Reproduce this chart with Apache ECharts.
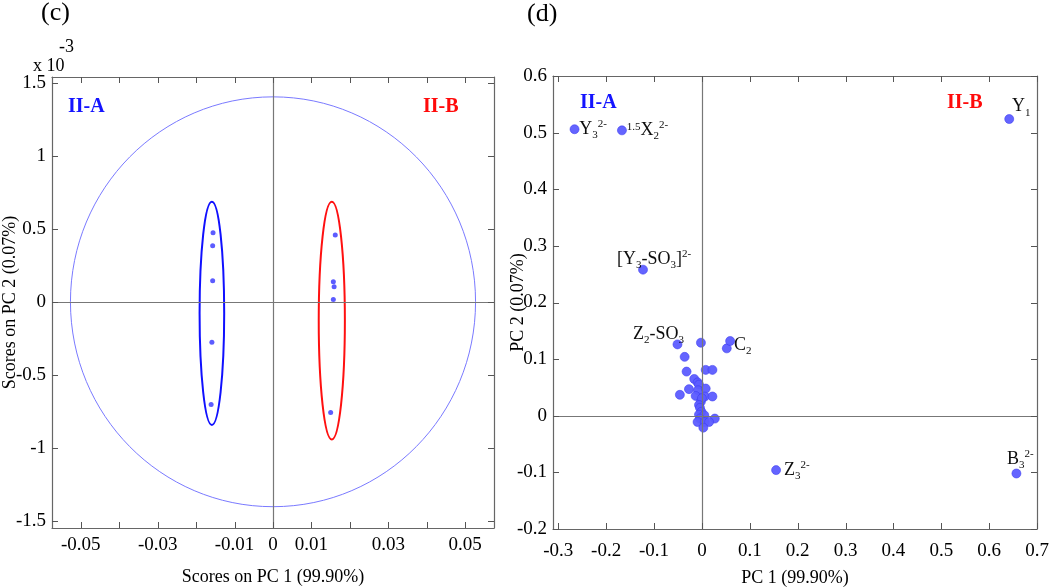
<!DOCTYPE html>
<html>
<head>
<meta charset="utf-8">
<script src="https://cdn.jsdelivr.net/npm/echarts@6/dist/echarts.min.js"></script>
<style>
  html, body { margin: 0; padding: 0; background: #fff; }
  #chart { width: 1050px; height: 588px; }
</style>
</head>
<body>
<div id="chart"></div>
<script>
// (c) scores on PC1 / PC2 (y in units of 1e-3)
const scoresA = [
  [-0.0156, 0.473], [-0.0157, 0.384], [-0.0157, 0.144], [-0.0159, -0.278], [-0.0161, -0.703]
]
const scoresB = [
  [0.0162, 0.457], [0.0157, 0.137], [0.0159, 0.103], [0.0157, 0.016], [0.0150, -0.758]
]
// ellipses: [cx, cy, rx, ry]
const outerEllipse = [[0, 0, 0.0527, 1.404]]
const ellipseA = [[-0.0159, -0.079, 0.0032, 0.765]]
const ellipseB = [[0.0153, -0.129, 0.0034, 0.814]]

const scoreXTicks = [-0.05, -0.04, -0.03, -0.02, -0.01, 0, 0.01, 0.02, 0.03, 0.04, 0.05]
const scoreXLabels = [-0.05, -0.03, -0.01, 0, 0.01, 0.03, 0.05]
const scoreYTicks = [-1.5, -1, -0.5, 0, 0.5, 1, 1.5]

// (d) loadings
const loadingPoints = [
  [-0.036, 0.104], [-0.032, 0.078], [0.008, 0.081], [0.022, 0.081], [-0.016, 0.065],
  [-0.009, 0.059], [-0.006, 0.055], [-0.046, 0.037], [-0.027, 0.047], [-0.008, 0.045],
  [0.008, 0.048], [-0.013, 0.035], [0.006, 0.034], [0.022, 0.034], [-0.002, 0.025],
  [0.000, 0.031], [-0.006, 0.019], [-0.004, 0.014], [-0.001, 0.007], [-0.006, 0.002],
  [0.005, 0.001], [-0.004, -0.005], [-0.009, -0.011], [0.006, -0.011], [0.027, -0.005],
  [0.015, -0.011], [0.003, -0.021], [-0.002, 0.129], [0.052, 0.119]
]
const labeledPoints = [
  [-0.266, 0.506, 'Y3'],
  [-0.167, 0.504, 'X2'],
  [-0.123, 0.258, 'Y3SO3'],
  [-0.051, 0.126, 'Z2SO3'],
  [0.059, 0.132, 'C2'],
  [0.155, -0.096, 'Z3'],
  [0.657, -0.102, 'B3'],
  [0.642, 0.524, 'Y1']
]
const loadXTicks = [-0.3, -0.2, -0.1, 0, 0.1, 0.2, 0.3, 0.4, 0.5, 0.6, 0.7]
const loadYTicks = [-0.2, -0.1, 0, 0.1, 0.2, 0.3, 0.4, 0.5, 0.6]

const labelText = {
  Y3: { text: '{t|Y}{sub|3}{sup|2-}', position: 'right', offset: [-3, 0] },
  X2: { text: '{supl|1.5}{t|X}{sub|2}{sup|2-}', position: 'right', offset: [-3, 0] },
  Y3SO3: { text: '{t|[Y}{sub|3}{t|-SO}{sub|3}{t|]}{sup|2-}', position: 'top', offset: [11, 9] },
  Z2SO3: { text: '{t|Z}{sub|2}{t|-SO}{sub|3}', position: 'top', offset: [-19, 9] },
  C2: { text: '{t|C}{sub|2}', position: 'right', offset: [-4, 4] },
  Z3: { text: '{t|Z}{sub|3}{sup|2-}', position: 'right', offset: [0, 0] },
  B3: { text: '{t|B}{sub|3}{sup|2-}', position: 'top', offset: [4, 5] },
  Y1: { text: '{t|Y}{sub|1}', position: 'top', offset: [12, 7] }
}

const FONT = 'Liberation Serif'
const AXIS_COLOR = '#666'
const TICK_COLOR = '#555'
const POINT_COLOR = '#5c5cff'

function fmt(v) {
  return String(Math.round(v * 1000) / 1000)
}

function frameAxis(gridIndex, min, max, labels, opts) {
  const base = {
    type: 'value',
    gridIndex,
    min,
    max,
    splitLine: { show: false },
    nameMoveOverlap: false,
    axisLine: { show: true, onZero: false, lineStyle: { color: AXIS_COLOR, width: 1.2 } },
    axisTick: { show: false },
    axisLabel: labels
      ? { show: true, customValues: labels, formatter: fmt, color: '#000', fontFamily: FONT, fontSize: 19 }
      : { show: false }
  }
  return Object.assign(base, opts || {})
}

function ellipseSeries(xi, yi, data, color, width) {
  return {
    type: 'custom',
    xAxisIndex: xi,
    yAxisIndex: yi,
    silent: true,
    clip: false,
    data,
    encode: { x: 0, y: 1 },
    renderItem(params, api) {
      const c = api.coord([api.value(0), api.value(1)])
      const s = api.size([api.value(2), api.value(3)])
      return {
        type: 'ellipse',
        shape: { cx: c[0], cy: c[1], rx: s[0], ry: s[1] },
        style: { fill: 'none', stroke: color, lineWidth: width }
      }
    }
  }
}

// inward tick marks on all four sides of a frame; item = [value, 0 for x / 1 for y]
function tickSeries(xi, yi, xTicks, yTicks) {
  const data = xTicks.map((v) => [v, 0]).concat(yTicks.map((v) => [v, 1]))
  return {
    type: 'custom',
    xAxisIndex: xi,
    yAxisIndex: yi,
    silent: true,
    clip: false,
    z: 5,
    data,
    encode: { x: 0 },
    renderItem(params, api) {
      const cs = params.coordSys
      const len = 6
      const style = { stroke: TICK_COLOR, lineWidth: 1 }
      const v = api.value(0)
      if (api.value(1) === 0) {
        const px = Math.round(api.coord([v, 0])[0]) + 0.5
        return {
          type: 'group',
          children: [
            { type: 'line', shape: { x1: px, y1: cs.y, x2: px, y2: cs.y + len }, style },
            { type: 'line', shape: { x1: px, y1: cs.y + cs.height, x2: px, y2: cs.y + cs.height - len }, style }
          ]
        }
      }
      const py = Math.round(api.coord([0, v])[1]) + 0.5
      return {
        type: 'group',
        children: [
          { type: 'line', shape: { x1: cs.x, y1: py, x2: cs.x + len, y2: py }, style },
          { type: 'line', shape: { x1: cs.x + cs.width, y1: py, x2: cs.x + cs.width - len, y2: py }, style }
        ]
      }
    }
  }
}

const zeroLines = {
  silent: true,
  symbol: 'none',
  label: { show: false },
  lineStyle: { color: '#777', type: 'solid', width: 1.2 },
  data: [{ xAxis: 0 }, { yAxis: 0 }]
}

const richStyle = {
  t: { fontFamily: FONT, fontSize: 18, color: '#000' },
  sub: { fontFamily: FONT, fontSize: 11, color: '#000', padding: [12, 0, 0, 0] },
  sup: { fontFamily: FONT, fontSize: 11, color: '#000', padding: [0, 0, 10, 0] },
  supl: { fontFamily: FONT, fontSize: 11, color: '#000', padding: [0, 0, 6, 0] }
}

const nameStyle = { fontFamily: FONT, fontSize: 18, color: '#000' }

const chart = echarts.init(document.getElementById('chart'))

chart.setOption({
  animation: false,
  backgroundColor: '#fff',
  grid: [
    { left: 52, top: 77, width: 442, height: 451, containLabel: false, outerBoundsMode: 'none' },
    { left: 553, top: 76, width: 484, height: 453, containLabel: false, outerBoundsMode: 'none' }
  ],
  xAxis: [
    frameAxis(0, -0.0575, 0.0575, scoreXLabels, {
      position: 'bottom',
      name: 'Scores on PC 1 (99.90%)',
      nameLocation: 'middle',
      nameGap: 40,
      nameTextStyle: nameStyle,
      axisLabel: { show: true, customValues: scoreXLabels, formatter: fmt, color: '#000', fontFamily: FONT, fontSize: 19, margin: 8 }
    }),
    frameAxis(0, -0.0575, 0.0575, null, { position: 'top' }),
    frameAxis(1, -0.311, 0.7, loadXTicks, {
      position: 'bottom',
      name: 'PC 1 (99.90%)',
      nameLocation: 'middle',
      nameGap: 40,
      nameTextStyle: nameStyle,
      axisLabel: { show: true, customValues: loadXTicks, formatter: fmt, color: '#000', fontFamily: FONT, fontSize: 19, margin: 13 }
    }),
    frameAxis(1, -0.311, 0.7, null, { position: 'top' })
  ],
  yAxis: [
    frameAxis(0, -1.55, 1.54, scoreYTicks, {
      position: 'left',
      name: 'Scores on PC 2 (0.07%)',
      nameLocation: 'middle',
      nameGap: 33,
      nameTextStyle: nameStyle,
      axisLabel: { show: true, customValues: scoreYTicks, formatter: fmt, color: '#000', fontFamily: FONT, fontSize: 19, margin: 6 }
    }),
    frameAxis(0, -1.55, 1.54, null, { position: 'right' }),
    frameAxis(1, -0.2, 0.6, loadYTicks, {
      position: 'left',
      name: 'PC 2 (0.07%)',
      nameLocation: 'middle',
      nameGap: 26,
      nameTextStyle: nameStyle,
      axisLabel: { show: true, customValues: loadYTicks, formatter: fmt, color: '#000', fontFamily: FONT, fontSize: 19, margin: 6 }
    }),
    frameAxis(1, -0.2, 0.6, null, { position: 'right' })
  ],
  series: [
    tickSeries(0, 0, scoreXTicks, scoreYTicks),
    tickSeries(2, 2, loadXTicks, loadYTicks),
    ellipseSeries(0, 0, outerEllipse, '#7a7aff', 1),
    ellipseSeries(0, 0, ellipseA, '#1010ff', 2),
    ellipseSeries(0, 0, ellipseB, '#ff1010', 2),
    {
      type: 'scatter',
      xAxisIndex: 0,
      yAxisIndex: 0,
      symbolSize: 5,
      itemStyle: { color: POINT_COLOR, opacity: 1 },
      data: scoresA.concat(scoresB),
      markLine: zeroLines
    },
    {
      type: 'scatter',
      xAxisIndex: 2,
      yAxisIndex: 2,
      symbolSize: 9,
      itemStyle: { color: POINT_COLOR, borderColor: '#3c3cf0', borderWidth: 0.6, opacity: 0.95 },
      data: loadingPoints,
      markLine: zeroLines
    },
    {
      type: 'scatter',
      xAxisIndex: 2,
      yAxisIndex: 2,
      symbolSize: 9,
      itemStyle: { color: POINT_COLOR, borderColor: '#3c3cf0', borderWidth: 0.6, opacity: 0.95 },
      data: labeledPoints.map((p) => {
        const l = labelText[p[2]]
        return {
          value: [p[0], p[1]],
          label: {
            show: true,
            formatter: l.text,
            position: l.position,
            offset: l.offset,
            distance: 3,
            rich: richStyle
          }
        }
      })
    }
  ],
  graphic: [
    { type: 'text', left: 41, top: 0, style: { text: '(c)', font: '26px "Liberation Serif"', fill: '#000' } },
    { type: 'text', left: 527, top: 1, style: { text: '(d)', font: '26px "Liberation Serif"', fill: '#000' } },
    { type: 'text', left: 33, top: 57, style: { text: 'x 10', font: '18px "Liberation Serif"', fill: '#000' } },
    { type: 'text', left: 59, top: 38, style: { text: '-3', font: '18px "Liberation Serif"', fill: '#000' } },
    { type: 'text', left: 68, top: 97, style: { text: 'II-A', font: 'bold 20px "Liberation Serif"', fill: '#1414ff' } },
    { type: 'text', left: 423, top: 97, style: { text: 'II-B', font: 'bold 20px "Liberation Serif"', fill: '#ff0a0a' } },
    { type: 'text', left: 580, top: 93, style: { text: 'II-A', font: 'bold 20px "Liberation Serif"', fill: '#1414ff' } },
    { type: 'text', left: 947, top: 93, style: { text: 'II-B', font: 'bold 20px "Liberation Serif"', fill: '#ff0a0a' } }
  ]
})

window.addEventListener('resize', () => chart.resize())
</script>
</body>
</html>
